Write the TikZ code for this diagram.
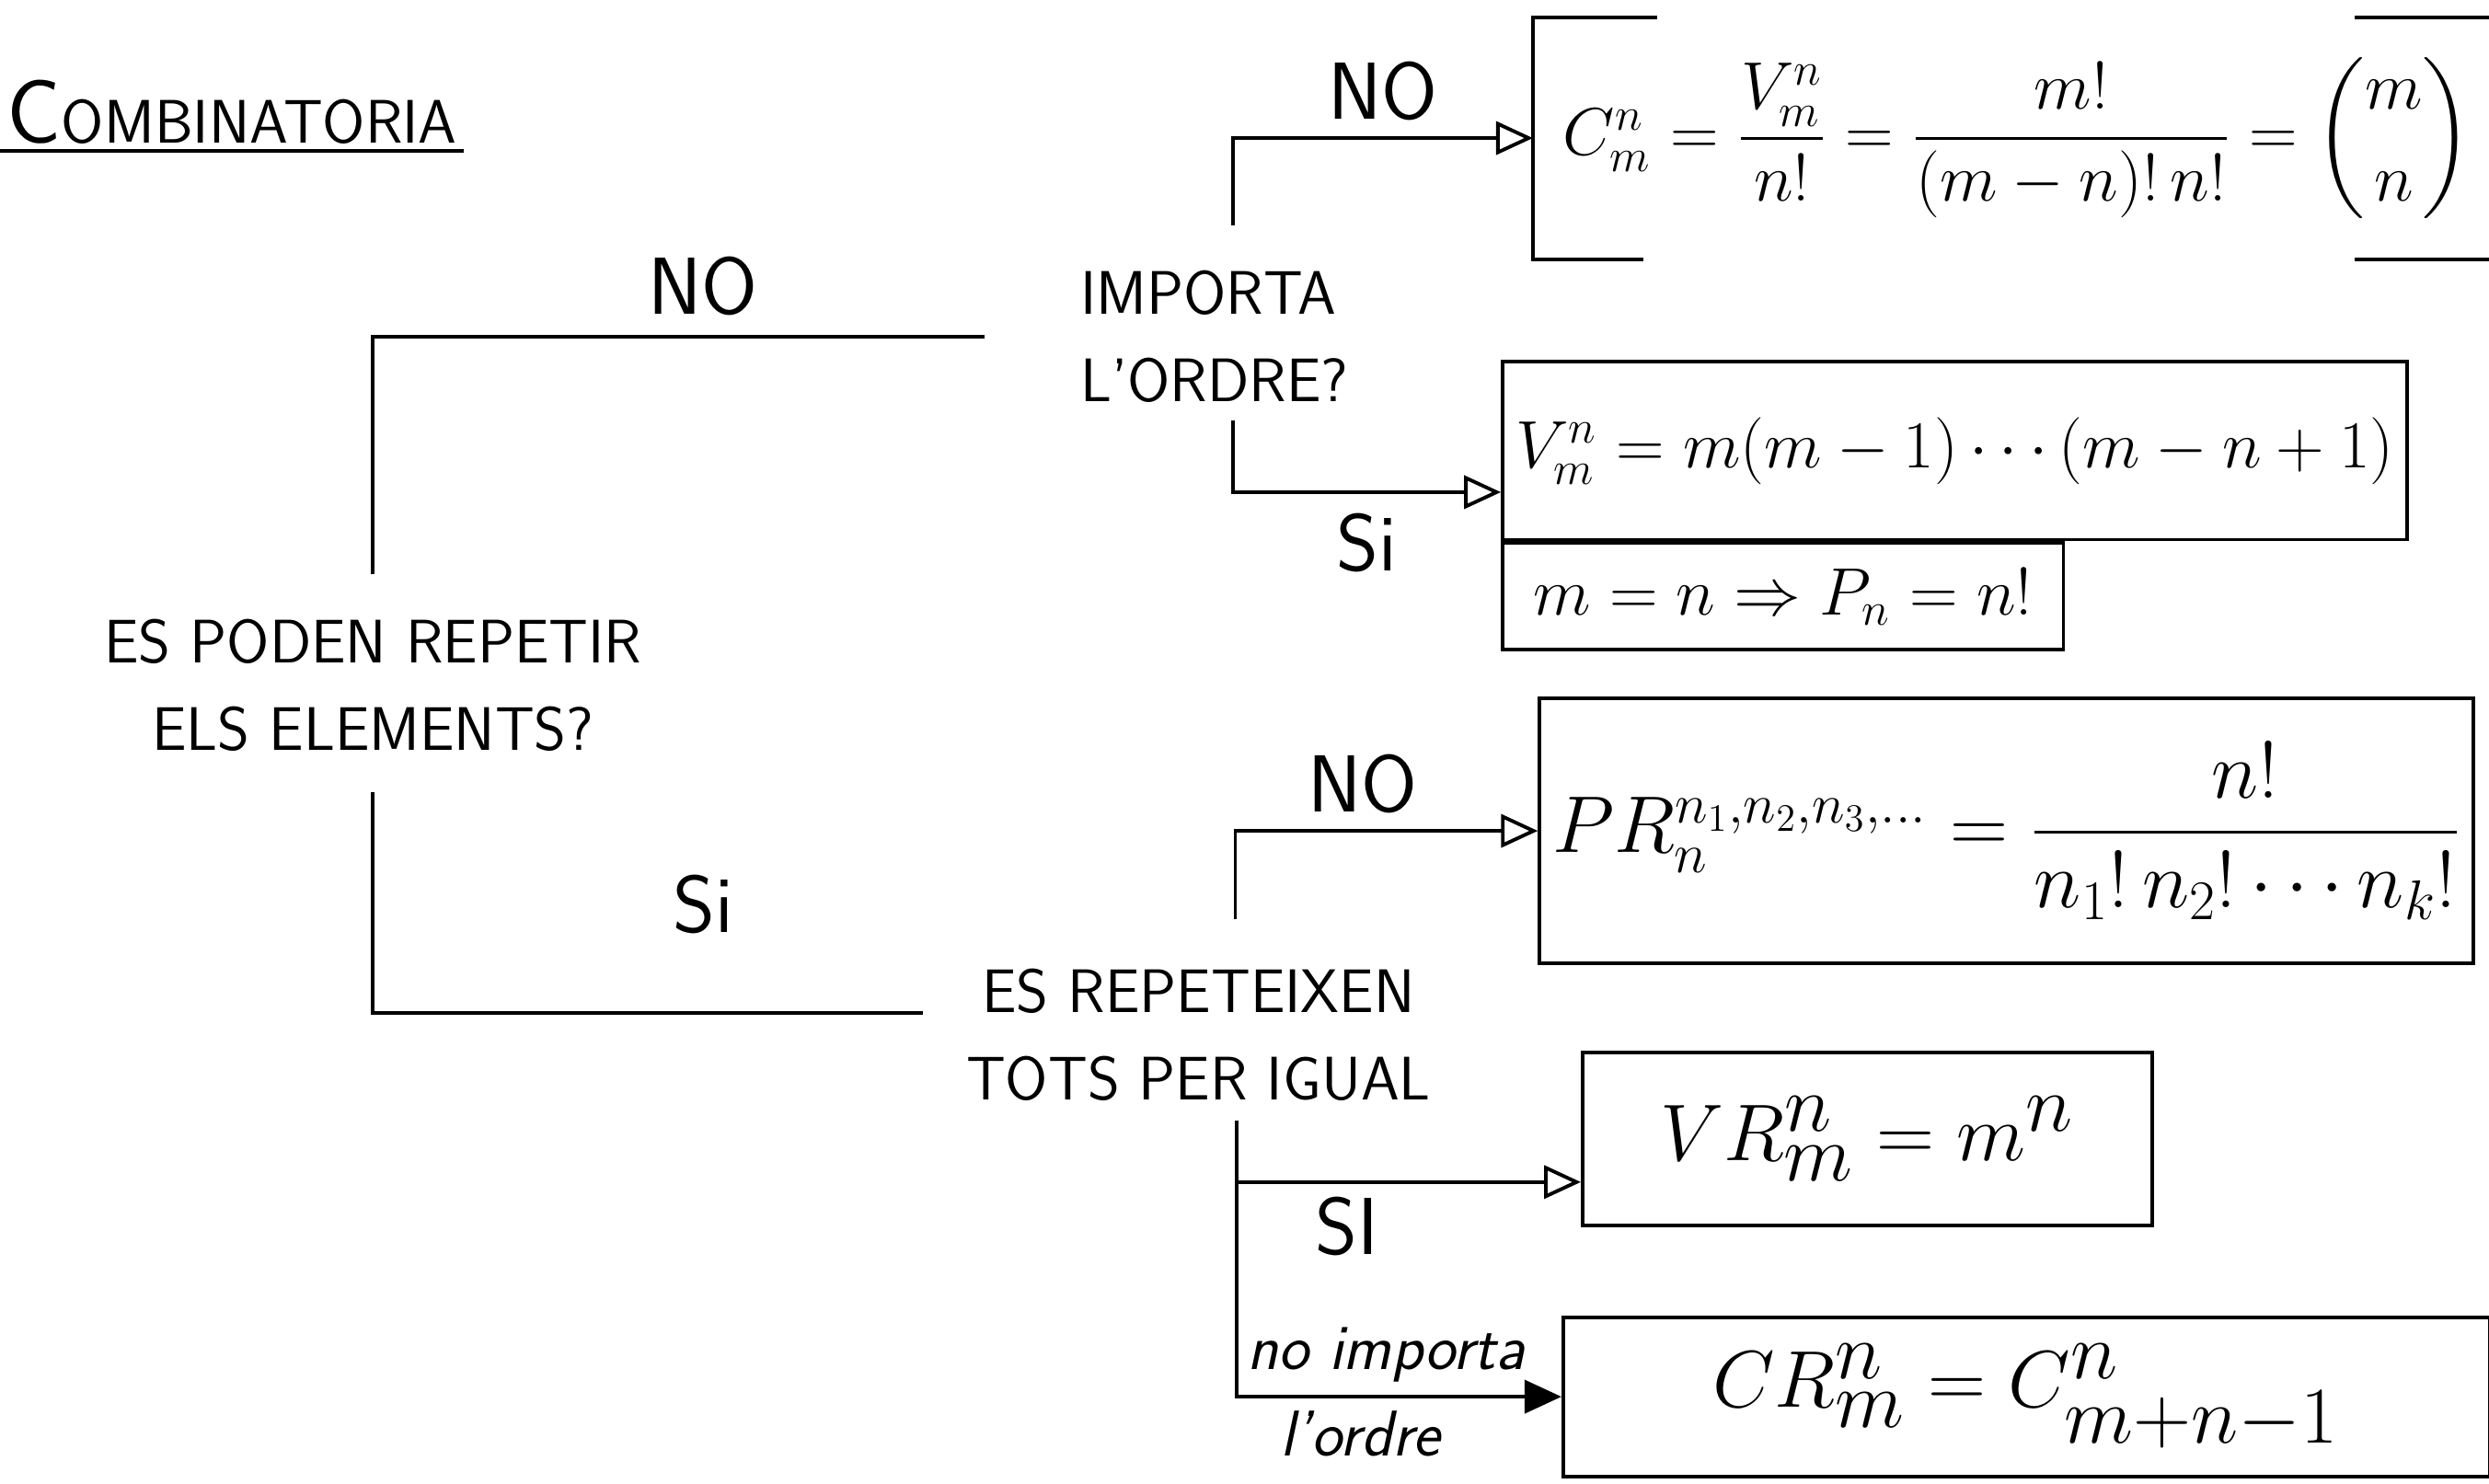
\documentclass[tikz,border=0pt]{standalone}
\usepackage{amsmath}
\usepackage{fontspec}
\usetikzlibrary{arrows.meta, positioning, calc}

\begin{document}
\begin{tikzpicture}[
    x=0.01725cm, y=-0.01725cm,
    lbl/.style={font=\sffamily\fontsize{19}{27}\selectfont\addfontfeature{LetterSpace=18}, align=center, inner sep=1pt},
    ans/.style={font=\sffamily\fontsize{25}{28}\selectfont, inner sep=1pt},
    ord/.style={font=\sffamily\itshape\fontsize{20}{22}\selectfont, inner sep=1pt},
    ln/.style={line width=1.1pt},
    frm/.style={draw, ln, inner sep=4pt},
    fsz/.style={font=\fontsize{#1}{#1}\selectfont},
    arr/.style={ln, -{Triangle[open, length=4mm, width=3.6mm]}},
    arrf/.style={ln, -{Triangle[length=4mm, width=3.6mm]}}
  ]
  \useasboundingbox (0,0) rectangle (1568,935);

  % title
  \node[anchor=south west, font=\sffamily\fontsize{19}{22}\selectfont\addfontfeature{LetterSpace=20}, inner sep=2pt] (title) at (0,95)
    {{\fontsize{28}{28}\selectfont C}OMBINATORIA};
  \draw[ln] (title.south west) -- (title.south east);

  % questions
  \node[lbl] (q1) at (235,432) {ES PODEN REPETIR\\ELS ELEMENTS?};
  \node[lbl, align=left] (q2) at (765,212) {IMPORTA\\L'ORDRE?};
  \node[lbl, font=\sffamily\fontsize{19}{27}\selectfont\addfontfeature{LetterSpace=6}] (q3) at (755,652) {ES REPETEIXEN\\TOTS PER IGUAL};

  % results
  \node[frm, draw=none, fsz=22, inner sep=2pt, minimum width=10.49cm, minimum height=2.59cm] (cbox) at (1271,87)
    {$C_m^n = \dfrac{V_m^n}{n!} = \dfrac{m!}{(m-n)!\,n!} = \dbinom{m}{n}$};
  \draw[ln] ([xshift=1.35cm]cbox.north west) -- (cbox.north west) -- (cbox.south west) -- ++(1.2cm,0);
  \draw[ln] ([xshift=-1.6cm]cbox.north east) -- (cbox.north east);
  \draw[ln] ([xshift=-1.6cm]cbox.south east) -- (cbox.south east);

  \node[frm, fsz=22, minimum width=9.54cm, minimum height=1.93cm] (vbox) at (1231.5,284)
    {$V_m^n = m(m-1)\cdots(m-n+1)$};
  \node[frm, fsz=20, minimum width=6.09cm, minimum height=1.16cm, anchor=north west] (pbox) at (vbox.south west)
    {$m=n \Rightarrow P_n = n!$};
  \node[frm, fsz=26, minimum width=9.80cm, minimum height=2.88cm] (prbox) at (1264,523.5)
    {$PR_n^{n_1,n_2,n_3,\ldots} = \dfrac{n!}{n_1!\,n_2!\cdots n_k!}$};
  \node[frm, fsz=38, inner sep=2pt, minimum width=6.19cm, minimum height=1.88cm] (vrbox) at (1176.5,717.5)
    {$VR_m^n = m^n$};
  \node[frm, fsz=40, inner sep=2pt, minimum width=10.06cm, minimum height=1.73cm] (crbox) at (1276.5,880)
    {$CR_m^n = C_{m+n-1}^n$};

  % branches
  \draw[ln] ([yshift=4.5mm]q1.north) |- ([xshift=-1cm]q2.west)
    node[ans, pos=0.77, above=5pt] {NO};
  \draw[ln] ([yshift=-4mm]q1.south) |- ([xshift=-4.3mm, yshift=2.4mm]q3.west)
    node[ans, pos=0.8, above=8mm] {Si};

  \draw[arr] ([xshift=2mm, yshift=4.5mm]q2.north) |- (cbox.west)
    node[ans, pos=0.75, above=4pt] {NO};
  \draw[arr] ([xshift=2mm, yshift=-1.5mm]q2.south) |- ([yshift=-4.5mm]vbox.west)
    node[ans, pos=0.75, below=5pt] {Si};

  \draw[arr] ([xshift=4mm, yshift=5mm]q3.north) |- (prbox.west)
    node[ans, pos=0.71, above=4pt] {NO};
  \coordinate (t3) at ($(q3.south)+(24,10)$);
  \draw[arr] (t3) |- ([yshift=-4.7mm]vrbox.west)
    node[ans, pos=0.66, below=3pt] {SI};
  \draw[arrf] (t3) |- (crbox.west)
    node[ord, pos=0.73, above=3pt] {no importa}
    node[ord, pos=0.69, below=3pt] {l'ordre};
\end{tikzpicture}
\end{document}
